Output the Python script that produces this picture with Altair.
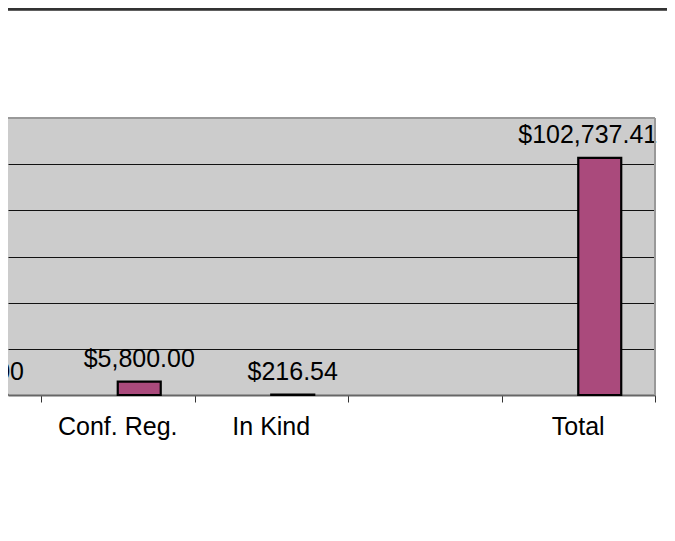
import altair as alt
import pandas as pd

categories = ["Other", "Conf. Reg.", "In Kind", "", "Total"]
values = [50.00, 5800.00, 216.54, None, 102737.41]
grid_values = [20000, 40000, 60000, 80000, 100000]
boundaries = [1, 2, 3, 4, 5]

df = pd.DataFrame({"cat": categories, "val": values, "idx": list(range(len(categories)))})
bars_df = df.dropna(subset=["val"])

BAR_COLOR = "#AA4A7C"
FONT = "Liberation Sans"

xscale = alt.Scale(domain=[0.785, 5], nice=False, zero=False)
yscale = alt.Scale(domain=[0, 120000], nice=False)

base = alt.Chart(bars_df).transform_calculate(
    x0="datum.idx + 0.5",
    x1="datum.idx + 0.78",
    xc="datum.cat == 'Total' ? datum.idx + 0.562 : datum.idx + 0.64",
)

bars = base.mark_bar(color=BAR_COLOR, stroke="black", strokeWidth=2.2).encode(
    x=alt.X("x0:Q", scale=xscale,
            axis=alt.Axis(values=boundaries, labels=False, title=None, grid=False,
                          domainColor="#666666", domainWidth=2,
                          tickColor="#333333", tickSize=7, tickWidth=1)),
    x2="x1:Q",
    y=alt.Y("val:Q", scale=yscale,
            axis=alt.Axis(values=grid_values, labels=False, ticks=False, domain=False,
                          title=None, grid=True, gridColor="#111111", gridWidth=1,
                          gridOpacity=1)),
    y2=alt.datum(0),
)

labels = base.mark_text(fontSize=25, font=FONT, dy=-15, baseline="alphabetic",
                        color="black").encode(
    x=alt.X("xc:Q", scale=xscale),
    y=alt.Y("val:Q", scale=yscale),
    text=alt.Text("val:Q", format="$,.2f"),
)

cat_labels = alt.Chart(df).transform_calculate(
    xm="datum.idx + 0.5"
).mark_text(fontSize=25, font=FONT, baseline="alphabetic", color="black").encode(
    x=alt.X("xm:Q", scale=xscale),
    y=alt.value(317),
    text="cat:N",
)

top_border = alt.Chart(df).mark_rule(color="#999999", strokeWidth=2).encode(
    x=alt.value(0), x2=alt.value(647), y=alt.value(0)
)
right_border = alt.Chart(df).mark_rule(color="#999999", strokeWidth=2).encode(
    x=alt.value(647), y=alt.value(0), y2=alt.value(277)
)
top_line = alt.Chart(df).mark_rule(color="#333333", strokeWidth=2.5).encode(
    x=alt.value(-8), x2=alt.value(667), y=alt.value(-109)
)

chart = alt.layer(bars, labels, cat_labels, top_border, right_border, top_line).properties(
    width=647,
    height=277,
    autosize=alt.AutoSizeParams(type="none"),
    padding={"left": 0, "top": 110, "right": 12, "bottom": 130},
    background="white",
).configure_view(fill="#CCCCCC", stroke=None)

chart.save("out.html", embed_options={"renderer": "svg", "actions": False})
